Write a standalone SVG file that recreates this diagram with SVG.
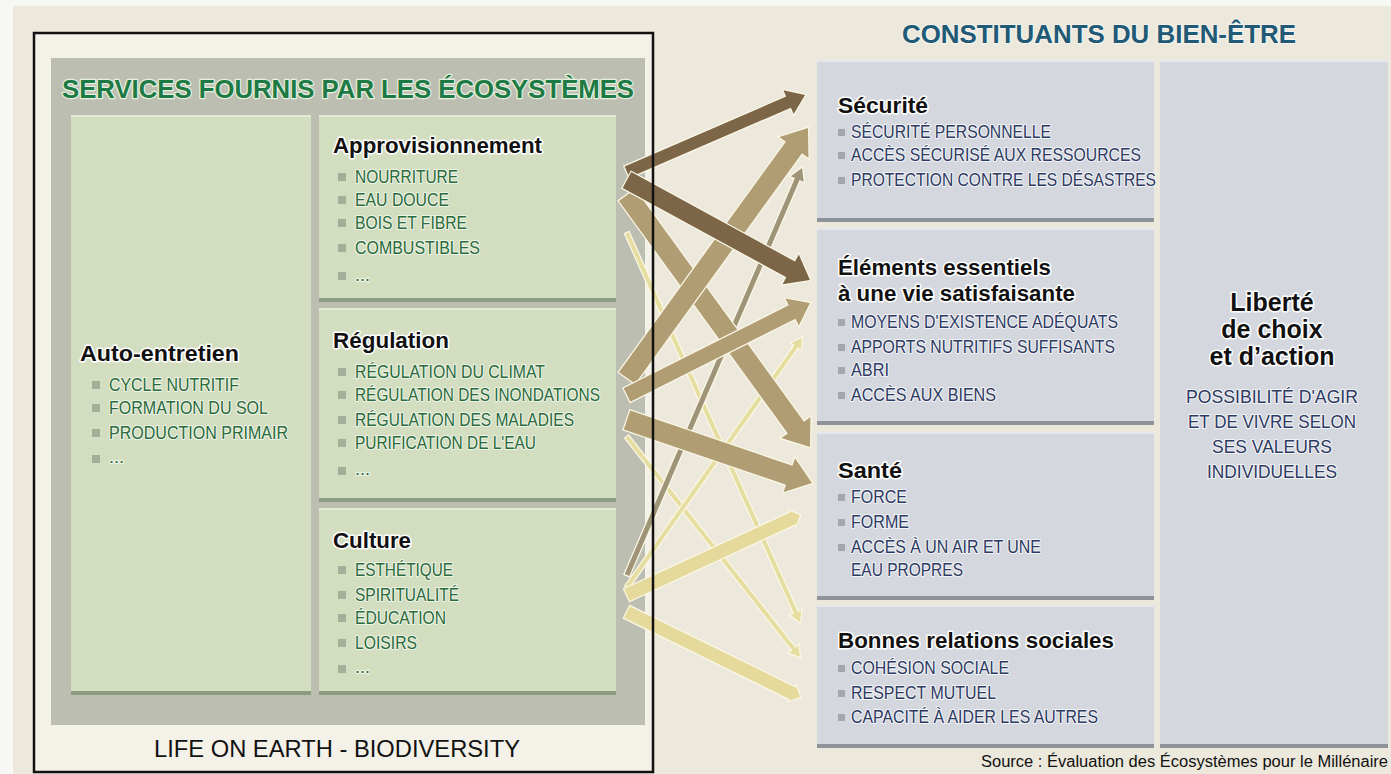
<svg xmlns="http://www.w3.org/2000/svg" width="1391" height="774" viewBox="0 0 1391 774">
<style>
text{font-family:"Liberation Sans",Arial,sans-serif}
.h{font-weight:bold;font-size:22px;fill:#111;stroke:#fff;stroke-width:3px;paint-order:stroke;stroke-linejoin:round}
.gi{font-size:18px;fill:#2A6A3C;stroke:#EEF4E6;stroke-width:2.2px;paint-order:stroke;stroke-linejoin:round}
.bi{font-size:18px;fill:#2D3A62;stroke:#F3F4F7;stroke-width:2.2px;paint-order:stroke;stroke-linejoin:round}
.gb{fill:#A5AE98}
.bb{fill:#A2A6AE}
.gbox{fill:#D3DEC1}
.gedge{fill:#8D9B81}
.ghi{fill:#E3EAD6}
.bbox{fill:#D4D7DD}
.bedge{fill:#8E9299}
.bhi{fill:#E6E8EC}
.arr{stroke:#FBF7E6;stroke-width:2.5px;paint-order:stroke;stroke-linejoin:miter}
.dark{fill:#7C6647}
.tan{fill:#B09D73}
.gray{fill:#A09478}
.lt{fill:#E6DDA0}
.ltw{fill:#E5DA9C}
</style>
<rect x="0" y="0" width="1391" height="774" fill="#F7F7F4"/>
<rect x="13" y="6" width="1378" height="768" fill="#ECE9DC"/>

<g id="left-panel">
<rect x="34" y="33" width="619" height="739" fill="#F3F1E8"/>
<rect x="51" y="58" width="594" height="667" fill="#BCBEB1"/>
<text x="348" y="98" text-anchor="middle" textLength="572" lengthAdjust="spacingAndGlyphs" style="font-weight:bold;font-size:26px;fill:#1D7A44;stroke:#E6F0DF;stroke-width:2.5px;paint-order:stroke;stroke-linejoin:round">SERVICES FOURNIS PAR LES ÉCOSYSTÈMES</text>
<text x="337" y="757" text-anchor="middle" textLength="366" lengthAdjust="spacingAndGlyphs" style="font-size:24px;fill:#111">LIFE ON EARTH - BIODIVERSITY</text>
</g>

<g id="auto-entretien">
<rect class="gbox" x="71" y="115" width="240" height="580"/>
<rect class="ghi" x="71" y="115" width="240" height="2"/>
<rect class="gedge" x="71" y="691" width="240" height="4"/>
<text class="h" x="80" y="361" textLength="159" lengthAdjust="spacingAndGlyphs">Auto-entretien</text>
<rect class="gb" x="92" y="381" width="8" height="8"/><text class="gi" x="109" y="391" textLength="130" lengthAdjust="spacingAndGlyphs">CYCLE NUTRITIF</text>
<rect class="gb" x="92" y="404" width="8" height="8"/><text class="gi" x="109" y="414" textLength="159" lengthAdjust="spacingAndGlyphs">FORMATION DU SOL</text>
<rect class="gb" x="92" y="429" width="8" height="8"/><text class="gi" x="109" y="439" textLength="179" lengthAdjust="spacingAndGlyphs">PRODUCTION PRIMAIR</text>
<rect class="gb" x="92" y="455" width="8" height="8"/><text class="gi" x="109" y="463">...</text>
</g>

<g id="approvisionnement">
<rect class="gbox" x="319" y="115" width="297" height="187"/>
<rect class="ghi" x="319" y="115" width="297" height="2"/>
<rect class="gedge" x="319" y="298" width="297" height="4"/>
<text class="h" x="333" y="153" textLength="209" lengthAdjust="spacingAndGlyphs">Approvisionnement</text>
<rect class="gb" x="338" y="173" width="8" height="8"/><text class="gi" x="355" y="183" textLength="103" lengthAdjust="spacingAndGlyphs">NOURRITURE</text>
<rect class="gb" x="338" y="196" width="8" height="8"/><text class="gi" x="355" y="206" textLength="94" lengthAdjust="spacingAndGlyphs">EAU DOUCE</text>
<rect class="gb" x="338" y="219" width="8" height="8"/><text class="gi" x="355" y="229" textLength="112" lengthAdjust="spacingAndGlyphs">BOIS ET FIBRE</text>
<rect class="gb" x="338" y="244" width="8" height="8"/><text class="gi" x="355" y="254" textLength="125" lengthAdjust="spacingAndGlyphs">COMBUSTIBLES</text>
<rect class="gb" x="338" y="272" width="8" height="8"/><text class="gi" x="355" y="281">...</text>
</g>

<g id="regulation">
<rect class="gbox" x="319" y="308" width="297" height="194"/>
<rect class="ghi" x="319" y="308" width="297" height="2"/>
<rect class="gedge" x="319" y="498" width="297" height="4"/>
<text class="h" x="333" y="348" textLength="116" lengthAdjust="spacingAndGlyphs">Régulation</text>
<rect class="gb" x="338" y="368" width="8" height="8"/><text class="gi" x="355" y="378" textLength="190" lengthAdjust="spacingAndGlyphs">RÉGULATION DU CLIMAT</text>
<rect class="gb" x="338" y="391" width="8" height="8"/><text class="gi" x="355" y="401" textLength="245" lengthAdjust="spacingAndGlyphs">RÉGULATION DES INONDATIONS</text>
<rect class="gb" x="338" y="416" width="8" height="8"/><text class="gi" x="355" y="426" textLength="219" lengthAdjust="spacingAndGlyphs">RÉGULATION DES MALADIES</text>
<rect class="gb" x="338" y="439" width="8" height="8"/><text class="gi" x="355" y="449" textLength="181" lengthAdjust="spacingAndGlyphs">PURIFICATION DE L'EAU</text>
<rect class="gb" x="338" y="467" width="8" height="8"/><text class="gi" x="355" y="475">...</text>
</g>

<g id="culture">
<rect class="gbox" x="319" y="508" width="297" height="187"/>
<rect class="ghi" x="319" y="508" width="297" height="2"/>
<rect class="gedge" x="319" y="691" width="297" height="4"/>
<text class="h" x="333" y="548" textLength="78" lengthAdjust="spacingAndGlyphs">Culture</text>
<rect class="gb" x="338" y="566" width="8" height="8"/><text class="gi" x="355" y="576" textLength="98" lengthAdjust="spacingAndGlyphs">ESTHÉTIQUE</text>
<rect class="gb" x="338" y="591" width="8" height="8"/><text class="gi" x="355" y="601" textLength="104" lengthAdjust="spacingAndGlyphs">SPIRITUALITÉ</text>
<rect class="gb" x="338" y="614" width="8" height="8"/><text class="gi" x="355" y="624" textLength="91" lengthAdjust="spacingAndGlyphs">ÉDUCATION</text>
<rect class="gb" x="338" y="639" width="8" height="8"/><text class="gi" x="355" y="649" textLength="62" lengthAdjust="spacingAndGlyphs">LOISIRS</text>
<rect class="gb" x="338" y="665" width="8" height="8"/><text class="gi" x="355" y="673">...</text>
</g>

<g id="right-title">
<text x="1099" y="43" text-anchor="middle" textLength="394" lengthAdjust="spacingAndGlyphs" style="font-weight:bold;font-size:26px;fill:#215A76;stroke:#F4F2EA;stroke-width:2.5px;paint-order:stroke;stroke-linejoin:round">CONSTITUANTS DU BIEN-ÊTRE</text>
</g>

<g id="securite">
<rect class="bbox" x="817" y="60" width="337" height="162"/>
<rect class="bhi" x="817" y="60" width="337" height="2"/>
<rect class="bedge" x="817" y="218" width="337" height="4"/>
<text class="h" x="838" y="113" textLength="90" lengthAdjust="spacingAndGlyphs">Sécurité</text>
<rect class="bb" x="838" y="129" width="7" height="7"/><text class="bi" x="851" y="138" textLength="200" lengthAdjust="spacingAndGlyphs">SÉCURITÉ PERSONNELLE</text>
<rect class="bb" x="838" y="152" width="7" height="7"/><text class="bi" x="851" y="161" textLength="290" lengthAdjust="spacingAndGlyphs">ACCÈS SÉCURISÉ AUX RESSOURCES</text>
<rect class="bb" x="838" y="177" width="7" height="7"/><text class="bi" x="851" y="186" textLength="305" lengthAdjust="spacingAndGlyphs">PROTECTION CONTRE LES DÉSASTRES</text>
</g>

<g id="elements-essentiels">
<rect class="bbox" x="817" y="228" width="337" height="197"/>
<rect class="bhi" x="817" y="228" width="337" height="2"/>
<rect class="bedge" x="817" y="421" width="337" height="4"/>
<text class="h" x="838" y="275" textLength="213" lengthAdjust="spacingAndGlyphs">Éléments essentiels</text>
<text class="h" x="838" y="301" textLength="237" lengthAdjust="spacingAndGlyphs">à une vie satisfaisante</text>
<rect class="bb" x="838" y="319" width="7" height="7"/><text class="bi" x="851" y="328" textLength="267" lengthAdjust="spacingAndGlyphs">MOYENS D'EXISTENCE ADÉQUATS</text>
<rect class="bb" x="838" y="344" width="7" height="7"/><text class="bi" x="851" y="353" textLength="264" lengthAdjust="spacingAndGlyphs">APPORTS NUTRITIFS SUFFISANTS</text>
<rect class="bb" x="838" y="367" width="7" height="7"/><text class="bi" x="851" y="376" textLength="38" lengthAdjust="spacingAndGlyphs">ABRI</text>
<rect class="bb" x="838" y="392" width="7" height="7"/><text class="bi" x="851" y="401" textLength="145" lengthAdjust="spacingAndGlyphs">ACCÈS AUX BIENS</text>
</g>

<g id="sante">
<rect class="bbox" x="817" y="432" width="337" height="168"/>
<rect class="bhi" x="817" y="432" width="337" height="2"/>
<rect class="bedge" x="817" y="596" width="337" height="4"/>
<text class="h" x="838" y="478" textLength="64" lengthAdjust="spacingAndGlyphs">Santé</text>
<rect class="bb" x="838" y="494" width="7" height="7"/><text class="bi" x="851" y="503" textLength="56" lengthAdjust="spacingAndGlyphs">FORCE</text>
<rect class="bb" x="838" y="519" width="7" height="7"/><text class="bi" x="851" y="528" textLength="58" lengthAdjust="spacingAndGlyphs">FORME</text>
<rect class="bb" x="838" y="544" width="7" height="7"/><text class="bi" x="851" y="553" textLength="190" lengthAdjust="spacingAndGlyphs">ACCÈS À UN AIR ET UNE</text>
<text class="bi" x="851" y="576" textLength="112" lengthAdjust="spacingAndGlyphs">EAU PROPRES</text>
</g>

<g id="bonnes-relations">
<rect class="bbox" x="817" y="605" width="337" height="143"/>
<rect class="bhi" x="817" y="605" width="337" height="2"/>
<rect class="bedge" x="817" y="744" width="337" height="4"/>
<text class="h" x="838" y="648" textLength="276" lengthAdjust="spacingAndGlyphs">Bonnes relations sociales</text>
<rect class="bb" x="838" y="665" width="7" height="7"/><text class="bi" x="851" y="674" textLength="158" lengthAdjust="spacingAndGlyphs">COHÉSION SOCIALE</text>
<rect class="bb" x="838" y="690" width="7" height="7"/><text class="bi" x="851" y="699" textLength="145" lengthAdjust="spacingAndGlyphs">RESPECT MUTUEL</text>
<rect class="bb" x="838" y="714" width="7" height="7"/><text class="bi" x="851" y="723" textLength="247" lengthAdjust="spacingAndGlyphs">CAPACITÉ À AIDER LES AUTRES</text>
</g>

<g id="liberte">
<rect class="bbox" x="1160" y="60" width="228" height="688"/>
<rect class="bhi" x="1160" y="60" width="228" height="2"/>
<rect class="bedge" x="1160" y="744" width="228" height="4"/>
<text class="h" x="1272" y="311" text-anchor="middle" style="font-size:25px">Liberté</text>
<text class="h" x="1272" y="338" text-anchor="middle" style="font-size:25px">de choix</text>
<text class="h" x="1272" y="365" text-anchor="middle" style="font-size:25px">et d’action</text>
<text class="bi" x="1272" y="403" text-anchor="middle" textLength="172" lengthAdjust="spacingAndGlyphs">POSSIBILITÉ D'AGIR</text>
<text class="bi" x="1272" y="428" text-anchor="middle" textLength="168" lengthAdjust="spacingAndGlyphs">ET DE VIVRE SELON</text>
<text class="bi" x="1272" y="453" text-anchor="middle" textLength="120" lengthAdjust="spacingAndGlyphs">SES VALEURS</text>
<text class="bi" x="1272" y="478" text-anchor="middle" textLength="130" lengthAdjust="spacingAndGlyphs">INDIVIDUELLES</text>
</g>

<g id="connectors">
<path class="arr lt" transform="translate(627,233) rotate(66.03)" d="M0,-2 L415.7,-2 L415.7,-6 L425.7,0 L415.7,6 L415.7,2 L0,2 Z"/>
<path class="arr lt" transform="translate(627,437) rotate(51.82)" d="M0,-2 L269.9,-2 L269.9,-6 L279.9,0 L269.9,6 L269.9,2 L0,2 Z"/>
<path class="arr lt" transform="translate(627,587) rotate(-54.9)" d="M0,-2 L294.3,-2 L294.3,-6 L304.3,0 L294.3,6 L294.3,2 L0,2 Z"/>
<path class="arr gray" transform="translate(627,575) rotate(-66.73)" d="M0,-2.5 L431,-2.5 L431,-7 L443,0 L431,7 L431,2.5 L0,2.5 Z"/>
<path class="arr ltw" transform="translate(627,595) rotate(-24.82)" d="M0,-6.5 L182.6,-6.5 L182.6,-8 L190.6,0 L182.6,8 L182.6,6.5 L0,6.5 Z"/>
<path class="arr ltw" transform="translate(627,612) rotate(26.17)" d="M0,-6.5 L184.8,-6.5 L184.8,-8 L192.8,0 L184.8,8 L184.8,6.5 L0,6.5 Z"/>
<path class="arr tan" transform="translate(627,195) rotate(54.01)" d="M0,-10 L287.4,-10 L287.4,-18 L311.4,0 L287.4,18 L287.4,10 L0,10 Z"/>
<path class="arr tan" transform="translate(627,378) rotate(-54.09)" d="M0,-10 L284.6,-10 L284.6,-18 L308.6,0 L284.6,18 L284.6,10 L0,10 Z"/>
<path class="arr tan" transform="translate(627,395) rotate(-26.69)" d="M0,-7.5 L184.8,-7.5 L184.8,-15 L204.8,0 L184.8,15 L184.8,7.5 L0,7.5 Z"/>
<path class="arr tan" transform="translate(627,420) rotate(18.81)" d="M0,-10 L171.4,-10 L171.4,-18 L195.4,0 L171.4,18 L171.4,10 L0,10 Z"/>
<path class="arr dark" transform="translate(627,172) rotate(-23.39)" d="M0,-6 L176,-6 L176,-13 L194,0 L176,13 L176,6 L0,6 Z"/>
<path class="arr dark" transform="translate(627,180) rotate(28.65)" d="M0,-9 L186.5,-9 L186.5,-17 L208.5,0 L186.5,17 L186.5,9 L0,9 Z"/>
</g>

<rect x="34" y="33" width="619" height="739" fill="none" stroke="#111" stroke-width="2.5"/>
<text x="1388" y="767" text-anchor="end" textLength="407" lengthAdjust="spacingAndGlyphs" style="font-size:16px;fill:#111">Source : Évaluation des Écosystèmes pour le Millénaire</text>
</svg>
